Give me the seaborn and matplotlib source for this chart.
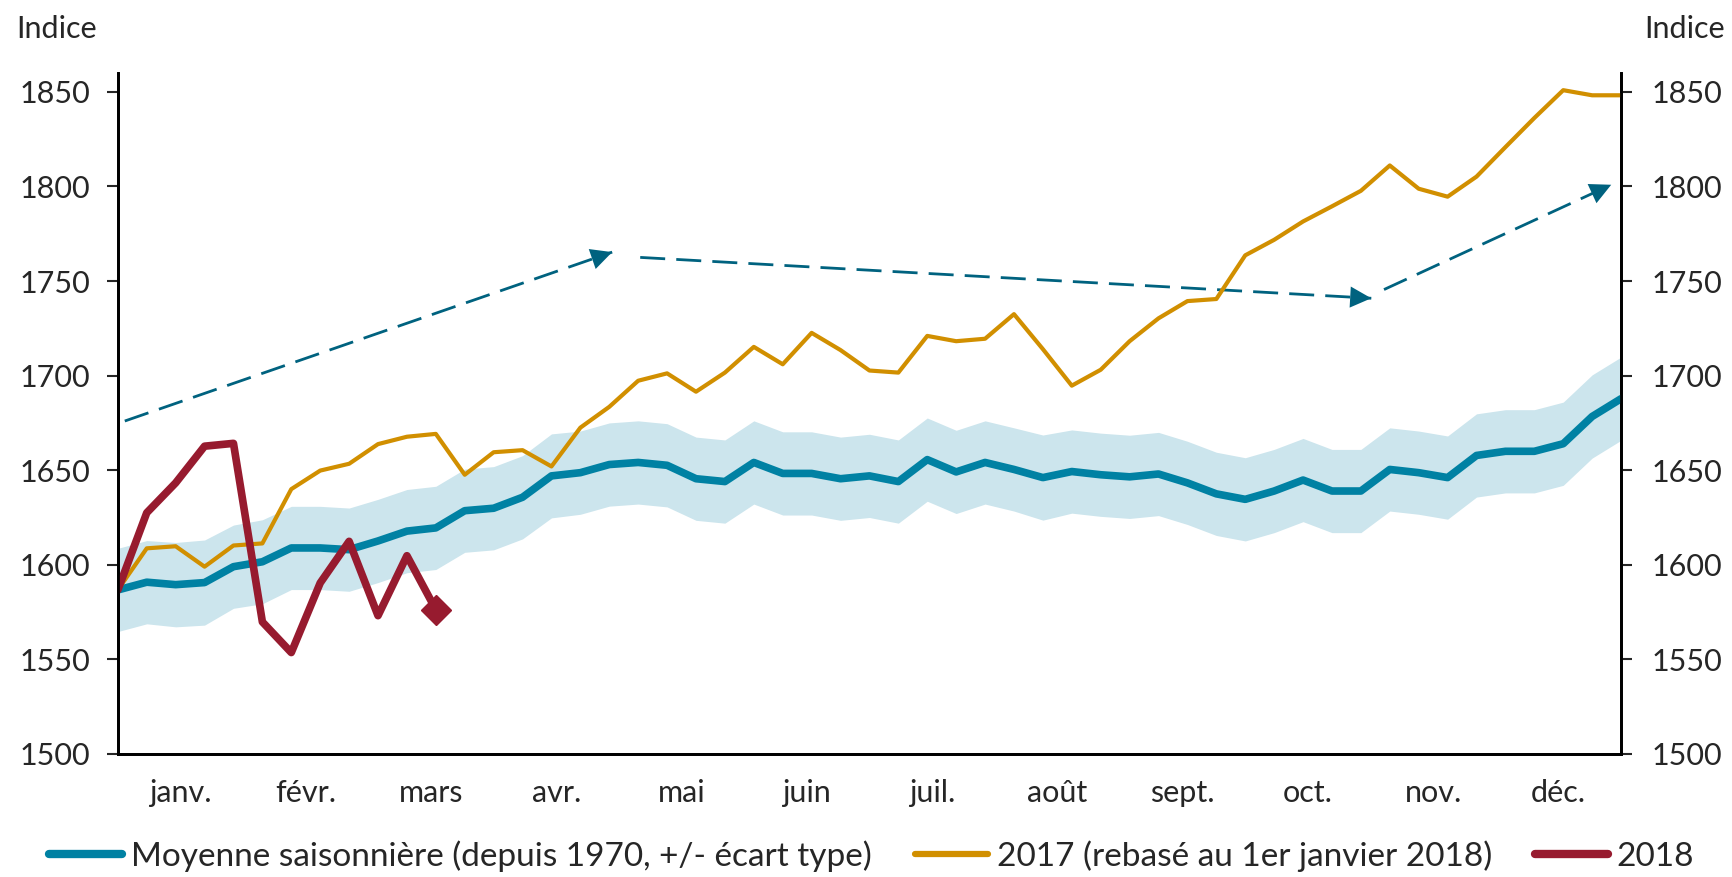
import numpy as np
import seaborn as sns
import matplotlib.pyplot as plt
from matplotlib.lines import Line2D

# weekly points, week 0 = 1 January
weeks = np.arange(53)

seasonal_mean = [1586.7, 1590.8, 1589.5, 1590.6, 1599.0, 1601.6, 1608.9, 1608.9, 1608.0, 1612.6,
                 1617.8, 1619.5, 1628.6, 1629.9, 1635.7, 1647.0, 1648.7, 1653.0, 1654.1, 1652.6,
                 1645.5, 1644.0, 1654.1, 1648.3, 1648.3, 1645.5, 1647.0, 1644.0, 1655.6, 1649.1,
                 1654.1, 1650.4, 1646.1, 1649.3, 1647.6, 1646.5, 1648.0, 1643.3, 1637.5, 1634.6,
                 1639.0, 1644.8, 1639.0, 1639.0, 1650.4, 1648.7, 1646.1, 1657.8, 1660.0, 1660.0,
                 1664.0, 1678.4, 1687.8]
seasonal_sd = [22.0, 22.0, 22.3, 22.5, 22.0, 22.2, 22.0, 22.0, 22.0, 22.0,
               22.0, 22.0, 22.0, 22.0, 22.0, 22.2, 22.0, 22.0, 22.0, 22.0,
               22.0, 22.0, 22.0, 22.0, 22.0, 22.0, 22.0, 22.0, 22.0, 22.0,
               22.0, 22.0, 22.5, 22.0, 22.0, 22.0, 22.0, 22.0, 22.0, 22.0,
               22.0, 22.0, 22.0, 22.0, 22.0, 22.0, 22.0, 22.0, 22.0, 22.0,
               22.0, 22.0, 22.0]
y2017 = [1586.7, 1608.7, 1609.8, 1599.0, 1610.2, 1611.3, 1640.0, 1649.8, 1653.4, 1663.8,
         1667.7, 1669.2, 1647.6, 1659.5, 1660.6, 1652.0, 1672.5, 1683.5, 1697.3, 1701.2,
         1691.5, 1701.6, 1715.2, 1706.0, 1722.6, 1713.5, 1702.7, 1701.6, 1721.0, 1718.2,
         1719.5, 1732.5, 1714.0, 1694.7, 1703.1, 1718.2, 1730.3, 1739.4, 1740.5, 1763.6,
         1771.8, 1781.5, 1789.5, 1797.7, 1811.1, 1798.8, 1794.6, 1805.2, 1820.8, 1836.2,
         1850.9, 1848.2, 1848.2]
y2018 = [1586.7, 1627.5, 1643.3, 1662.7, 1664.2, 1569.8, 1553.6, 1590.4, 1612.4, 1573.1,
         1604.8, 1576.3]

months = ["janv.", "févr.", "mars", "avr.", "mai", "juin", "juil.", "août",
          "sept.", "oct.", "nov.", "déc."]

# dashed arrows (start week, start value, end week, end value)
arrows = [(0.24, 1676.0, 17.1, 1765.3),
          (18.07, 1762.5, 43.36, 1740.9),
          (43.8, 1745.5, 51.66, 1800.9)]

BLUE = "#0081a3"
BAND = "#cce5ed"
ORANGE = "#d18f00"
RED = "#971b2f"
ARROW = "#00627f"

sns.set_style("white")
plt.rcParams['font.family'] = ['Lato', 'DejaVu Sans']

fig, ax = plt.subplots(figsize=(17.33, 8.77), dpi=100)
fig.subplots_adjust(left=0.068, right=0.9354, top=0.9168, bottom=0.1403)

mean = np.array(seasonal_mean)
sd = np.array(seasonal_sd)
ax.fill_between(weeks, mean - sd, mean + sd, color=BAND, lw=0, zorder=1)
sns.lineplot(x=weeks, y=mean, color=BLUE, lw=5.5, ax=ax, zorder=3)
sns.lineplot(x=weeks, y=y2017, color=ORANGE, lw=3, ax=ax, zorder=4)
sns.lineplot(x=weeks[:len(y2018)], y=y2018, color=RED, lw=5.5, ax=ax, zorder=5)
ax.plot(weeks[len(y2018) - 1], y2018[-1], marker="D", ms=15, color=RED, zorder=6)

for x0, y0, x1, y1 in arrows:
    ax.plot([x0, x1], [y0, y1], color=ARROW, lw=2, ls=(0, (9, 4)), zorder=2)
    xs = x0 + (x1 - x0) * 0.97
    ys = y0 + (y1 - y0) * 0.97
    ax.annotate("", xy=(x1, y1), xytext=(xs, ys),
                arrowprops=dict(arrowstyle="-|>", mutation_scale=38, color=ARROW,
                                lw=0, shrinkA=0, shrinkB=0), zorder=2)

ax.set_xlim(0, 52)
ax.set_ylim(1500, 1860)
edges = np.linspace(0, 52, 13)
ax.set_xticks(edges)
ax.set_xticklabels([])
ax.set_xticks((edges[:-1] + edges[1:]) / 2, minor=True)
ax.set_xticklabels(months, minor=True, fontsize=22)
ax.tick_params(axis="x", which="major", direction="inout", length=16, width=1.5)
ax.tick_params(axis="x", which="minor", length=0, pad=18)

yt = np.arange(1500, 1851, 50)
ax.set_yticks(yt)
ax.set_yticklabels([str(v) for v in yt], fontsize=22)
ax.tick_params(axis="y", direction="out", length=8, width=1.5, pad=12)
ax.set_xlabel("")
ax.set_ylabel("")

ax2 = ax.twinx()
ax2.set_ylim(ax.get_ylim())
ax2.set_yticks(yt)
ax2.set_yticklabels([str(v) for v in yt], fontsize=22)
ax2.tick_params(axis="y", direction="out", length=8, width=1.5, pad=14)
ax2.grid(False)

for a in (ax, ax2):
    a.spines["top"].set_visible(False)
    for s in ("left", "right", "bottom"):
        a.spines[s].set_linewidth(2)
        a.spines[s].set_color("black")
ax.grid(False)

fig.text(16 / 1733, 1 - 29 / 877, "Indice", fontsize=22, ha="left", va="center")
fig.text(1725 / 1733, 1 - 29 / 877, "Indice", fontsize=22, ha="right", va="center")

handles = [Line2D([0], [0], color=BLUE, lw=6, solid_capstyle="round"),
           Line2D([0], [0], color=ORANGE, lw=4.5, solid_capstyle="round"),
           Line2D([0], [0], color=RED, lw=6, solid_capstyle="round")]
labels = ["Moyenne saisonnière (depuis 1970, +/- écart type)",
          "2017 (rebasé au 1er janvier 2018)", "2018"]
fig.legend(handles, labels, loc="center", bbox_to_anchor=(0.503, 1 - 856 / 877), ncol=3,
           frameon=False, fontsize=24, handlelength=2.2, handletextpad=0.25,
           columnspacing=1.3)

fig.savefig("out.png", dpi=100)
